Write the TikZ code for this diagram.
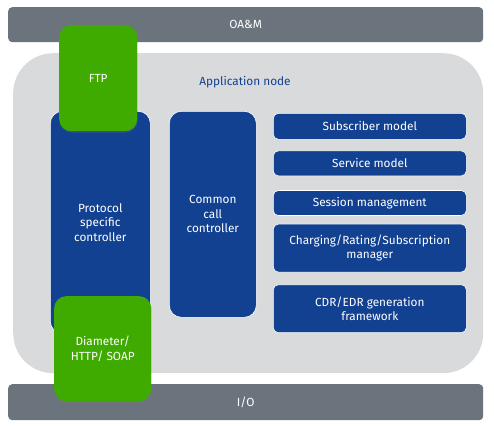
\documentclass[tikz,border=0pt]{standalone}
\usepackage{fontspec}
\setmainfont{Fira Sans}
\usepackage{tikz}
\usetikzlibrary{positioning,shadows}

\definecolor{barGray}{HTML}{6B737C}
\definecolor{appGray}{HTML}{D9DADC}
\definecolor{ctrlBlue}{HTML}{124191}
\definecolor{ifGreen}{HTML}{3FAA00}

\begin{document}
\begin{tikzpicture}[x=1pt,y=-1pt,node distance=10pt,
    every node/.style={font=\fontsize{11.8}{14.5}\selectfont,align=center,inner sep=2pt},
    bar/.style={fill=barGray,text=white,rounded corners=4pt,anchor=north west,
      minimum width=475pt},
    ctrl/.style={fill=ctrlBlue,draw=white,line width=0.6pt,text=white,
      rounded corners=12pt,anchor=north west},
    func/.style={fill=ctrlBlue,draw=white,line width=0.6pt,text=white,
      rounded corners=5pt,minimum width=193pt},
    iface/.style={fill=ifGreen,text=white,rounded corners=12pt,anchor=north west,
      drop shadow={opacity=0.25,shadow xshift=0.5pt,shadow yshift=-1.5pt}}]
  \useasboundingbox (0,0) rectangle (494,425);

  % outer frame
  \node (oam) [bar,minimum height=35pt] at (8,7) {OA\&M};
  \node (io) [bar,minimum height=36pt] at (8,384) {I/O};
  \node (app) [fill=appGray,rounded corners=40pt,anchor=north west,
    minimum width=470pt,minimum height=320pt] at (13,53) {};
  \node (applbl) [text=ctrlBlue] at (245,82) {Application node};

  % controllers
  \node (proto) [ctrl,minimum width=100pt,minimum height=222pt] at (50,111)
    {Protocol\\specific\\controller};
  \node (ccc) [ctrl,minimum width=87pt,minimum height=206pt] at (169,111)
    {Common\\call\\controller};

  % functions
  \node (sub) [func,anchor=north west,minimum height=26pt] at (273,113) {Subscriber model};
  \node (srv) [func,minimum height=25pt,below=11pt of sub] {Service model};
  \node (sess) [func,minimum height=25pt,below=14pt of srv] {Session management};
  \node (chg) [func,minimum height=48pt,below=8pt of sess]
    {Charging/Rating/Subscription\\manager};
  \node (cdr) [func,minimum height=48pt,below=12pt of chg]
    {CDR/EDR generation\\framework};

  % interfaces
  \node (ftp) [iface,minimum width=78pt,minimum height=106pt] at (59,25) {FTP};
  \node (dia) [iface,minimum width=97pt,minimum height=105pt] at (54,296)
    {Diameter/\\HTTP/ SOAP};
\end{tikzpicture}
\end{document}
